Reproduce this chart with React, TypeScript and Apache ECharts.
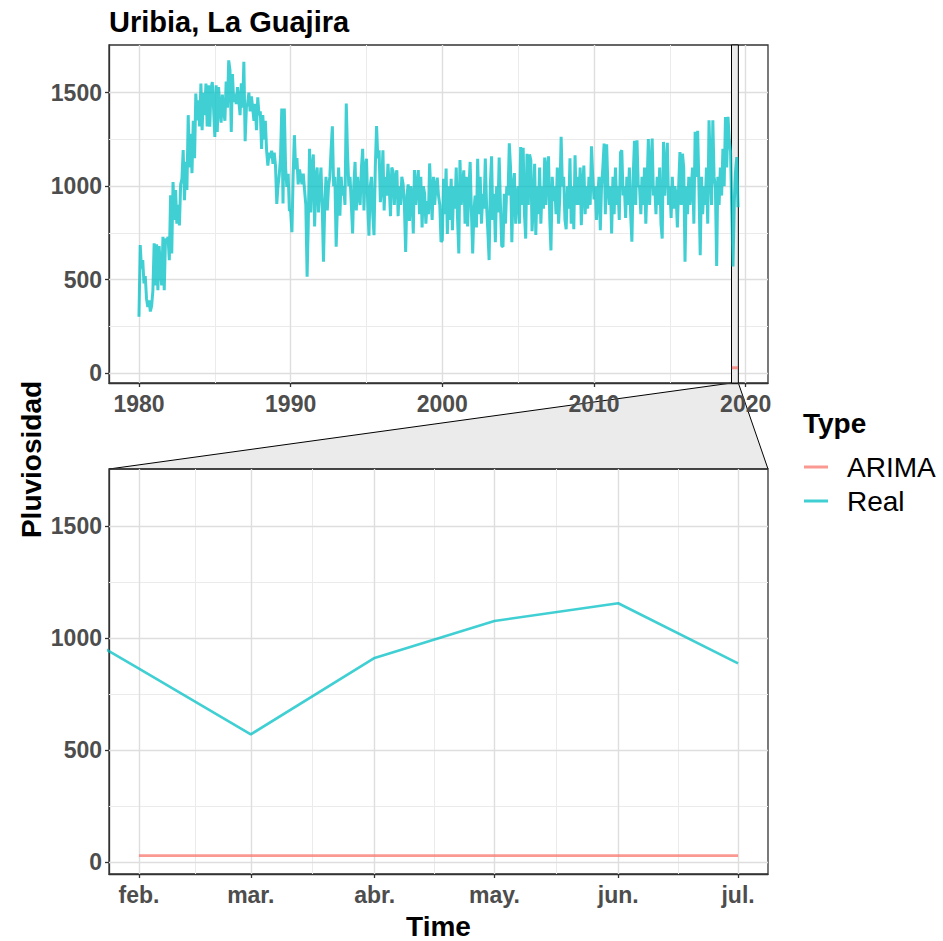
import React, { useEffect, useRef } from "react";
import * as echarts from "echarts";

// ---------- texts ----------
const chartTitle = "Uribia, La Guajira";
const yAxisTitle = "Pluviosidad";
const xAxisTitle = "Time";
const legendTitle = "Type";

// ---------- data ----------
const realStartYear = 1980; // monthly values from Jan 1980
const realValues: number[] = [
  // 1980
  302, 685, 560, 605, 480, 520, 400, 354, 390, 330, 360, 440,
  // 1981
  695, 470, 690, 444, 680, 560, 470, 730, 444, 720, 700, 730,
  // 1982
  605, 952, 640, 1023, 820, 980, 800, 900, 790, 1010, 1040, 1193,
  // 1983
  925, 1130, 980, 1380, 1100, 1280, 1070, 1350, 1150, 1495, 1352, 1460,
  // 1984
  1320, 1549, 1300, 1500, 1380, 1549, 1320, 1540, 1318, 1520, 1557, 1420,
  // 1985
  1264, 1540, 1290, 1530, 1420, 1340, 1490, 1400, 1350, 1560, 1420, 1673,
  // 1986
  1620, 1290, 1600, 1450, 1495, 1440, 1530, 1460, 1380, 1550, 1420, 1665,
  // 1987
  1241, 1425, 1440, 1500, 1400, 1480, 1420, 1350, 1440, 1300, 1475, 1380,
  // 1988
  1400, 1200, 1380, 1250, 1350, 1190, 1110, 1180, 1150, 1190, 1120, 1180,
  // 1989
  1110, 905, 1000, 1060, 1150, 1416, 908, 1415, 1100, 997, 1067, 870,
  // 1990
  870, 754, 1050, 1273, 1090, 1150, 1010, 1090, 1050, 1010, 1067, 980,
  // 1991
  900, 516, 800, 1200, 860, 1100, 1170, 785, 1050, 1100, 860, 1000,
  // 1992
  1100, 880, 596, 900, 1050, 870, 1000, 1050, 1200, 1320, 1000, 1050,
  // 1993
  676, 900, 1100, 842, 1050, 950, 1000, 900, 1442, 1180, 1000, 1050,
  // 1994
  900, 747, 1000, 1130, 870, 1050, 950, 900, 1100, 1200, 870, 1100,
  // 1995
  1147, 900, 736, 1000, 1050, 850, 738, 1100, 1322, 1150, 1192, 915,
  // 1996
  1000, 1192, 870, 1050, 950, 1120, 1000, 840, 1100, 1080, 900, 1050,
  // 1997
  1085, 840, 1000, 900, 1050, 1010, 900, 649, 950, 1010, 815, 1000,
  // 1998
  950, 747, 1086, 900, 1000, 1086, 850, 1050, 780, 1000, 960, 800,
  // 1999
  920, 850, 1122, 960, 820, 1050, 900, 1000, 1046, 950, 900, 702,
  // 2000
  712, 1040, 850, 1095, 745, 1000, 820, 1040, 765, 1000, 880, 1100,
  // 2001
  830, 641, 1140, 900, 1000, 1085, 800, 1050, 785, 980, 1130, 870,
  // 2002
  640, 870, 950, 780, 1147, 850, 1050, 800, 960, 880, 1148, 900,
  // 2003
  760, 605, 1000, 1160, 820, 960, 700, 1000, 860, 1153, 900, 680,
  // 2004
  676, 960, 800, 1000, 950, 1229, 1100, 700, 1000, 1070, 800, 950,
  // 2005
  1000, 800, 1210, 900, 1206, 850, 720, 1173, 900, 1170, 1140, 760,
  // 2006
  900, 1120, 740, 1000, 850, 1100, 800, 1000, 880, 1153, 900, 1100,
  // 2007
  1160, 820, 657, 1050, 920, 1000, 850, 1100, 800, 950, 1264, 1000,
  // 2008
  1050, 820, 770, 1000, 880, 1150, 800, 1000, 770, 1166, 900, 1050,
  // 2009
  900, 1100, 792, 1000, 1110, 850, 1000, 880, 1050, 900, 1214, 1050,
  // 2010
  930, 1000, 820, 950, 1050, 765, 1000, 1100, 1228, 850, 1224, 1000,
  // 2011
  900, 1000, 748, 1050, 850, 1100, 900, 1000, 820, 1180, 1192, 950,
  // 2012
  1000, 830, 1050, 900, 1100, 850, 703, 1050, 1243, 900, 1246, 1000,
  // 2013
  1000, 850, 1050, 900, 1100, 800, 1000, 1252, 900, 1100, 1255, 950,
  // 2014
  1000, 850, 1050, 900, 1100, 800, 720, 1237, 950, 1100, 1232, 900,
  // 2015
  1000, 830, 1050, 880, 1000, 950, 780, 1000, 1183, 900, 1174, 1100,
  // 2016
  596, 1000, 850, 1050, 900, 1000, 1100, 800, 1291, 1050, 1296, 1000,
  // 2017
  631, 1050, 850, 1000, 900, 1100, 800, 1353, 1100, 900, 1353, 1050,
  // 2018
  1000, 573, 1050, 900, 1100, 950, 1200, 1000, 1370, 1100, 1371, 1250,
  // 2019 (Jan - Jul)
  1186, 864, 571, 912, 1077, 1156, 888,
];

const arimaDates = ["2019-02-01", "2019-03-01", "2019-04-01", "2019-05-01", "2019-06-01", "2019-07-01"];
const arimaValues = [30, 30, 30, 30, 30, 30];

// ---------- axis breaks ----------
const yBreaks = [0, 500, 1000, 1500];
const yMinorBreaks = [250, 750, 1250];
const topYearBreaks = [1980, 1990, 2000, 2010, 2020];
const topYearMinorBreaks = [1985, 1995, 2005, 2015];
const zoomMonthBreaks = ["2019-02-01", "2019-03-01", "2019-04-01", "2019-05-01", "2019-06-01", "2019-07-01"];
const monthAbbr = ["ene.", "feb.", "mar.", "abr.", "may.", "jun.", "jul.", "ago.", "sept.", "oct.", "nov.", "dic."];

// ---------- style ----------
const FONT = "'Liberation Sans', Arial, Helvetica, sans-serif";
const COL_ARIMA = "rgba(248,118,109,0.75)";
const COL_REAL = "rgba(0,191,196,0.75)";
const BORDER = "#333333";
const TICK_TEXT = "#4D4D4D";
const MAJOR_GRID = { color: "#DEDEDE", width: 1.4, type: "solid" as const };
const MINOR_GRID = { color: "#EBEBEB", width: 1, type: "solid" as const };

const parseDate = (s: string) => {
  const [y, m, d] = s.split("-").map(Number);
  return Date.UTC(y, m - 1, d);
};

export default function App() {
  const ref = useRef<HTMLDivElement>(null);

  useEffect(() => {
    if (!ref.current) return;
    const chart = echarts.init(ref.current, undefined, { renderer: "svg" });

    const realData = realValues.map((v, i) => [
      Date.UTC(realStartYear + Math.floor(i / 12), i % 12, 1),
      v,
    ]);
    const arimaData = arimaDates.map((d, i) => [parseDate(d), arimaValues[i]]);

    const allX = [...realData.map((p) => p[0]), ...arimaData.map((p) => p[0])];
    const allY = [...realValues, ...arimaValues];
    const xLo = Math.min(...allX);
    const xHi = Math.max(...allX);
    const xSpan = xHi - xLo;
    const topXMin = xLo - 0.05 * xSpan;
    const topXMax = xHi + 0.05 * xSpan;

    const zLo = Math.min(...arimaData.map((p) => p[0]));
    const zHi = Math.max(...arimaData.map((p) => p[0]));
    const zSpan = zHi - zLo;
    const botXMin = zLo - 0.05 * zSpan;
    const botXMax = zHi + 0.05 * zSpan;

    const yLo = Math.min(...allY);
    const yHi = Math.max(...allY);
    const ySpan = yHi - yLo;
    const yMin = yLo - 0.05 * ySpan;
    const yMax = yHi + 0.05 * ySpan;

    const topTicks = topYearBreaks.map((y) => Date.UTC(y, 0, 1));
    const topMinor = topYearMinorBreaks.map((y) => Date.UTC(y, 0, 1));
    const botTicks = zoomMonthBreaks.map(parseDate);
    const botMinor = botTicks.slice(1).map((t, i) => (t + botTicks[i]) / 2);

    const gridMarks = (xMajor: number[], xMinor: number[]) => ({
      silent: true,
      z: 1,
      symbol: ["none", "none"],
      label: { show: false },
      emphasis: { disabled: true },
      animation: false,
      data: [
        ...yMinorBreaks.map((v) => ({ yAxis: v, lineStyle: MINOR_GRID })),
        ...xMinor.map((v) => ({ xAxis: v, lineStyle: MINOR_GRID })),
        ...yBreaks.map((v) => ({ yAxis: v, lineStyle: MAJOR_GRID })),
        ...xMajor.map((v) => ({ xAxis: v, lineStyle: MAJOR_GRID })),
      ],
    });

    const labelStyle = {
      fontSize: 23,
      fontWeight: "bold" as const,
      color: TICK_TEXT,
      fontFamily: FONT,
    };
    const axisLine = { show: true, onZero: false, lineStyle: { color: BORDER, width: 1.3 } };

    const yAxisCfg = (gridIndex: number) => ({
      type: "value" as const,
      gridIndex,
      min: yMin,
      max: yMax,
      splitLine: { show: false },
      axisLine,
      axisTick: { show: true, customValues: yBreaks, length: 4, lineStyle: { color: BORDER, width: 1.3 } },
      axisLabel: { customValues: yBreaks, margin: 7, formatter: (v: number) => String(Math.round(v)), ...labelStyle },
    });

    const lineSeries = (name: string, data: number[][], color: string, idx: number, z: number, width: number, extra: any = {}) => ({
      name,
      type: "line" as const,
      xAxisIndex: idx,
      yAxisIndex: idx,
      data,
      showSymbol: false,
      symbol: "none",
      silent: true,
      z,
      lineStyle: { color, width },
      itemStyle: { color },
      emphasis: { disabled: true },
      ...extra,
    });

    const option: any = {
      animation: false,
      backgroundColor: "#ffffff",
      textStyle: { fontFamily: FONT },
      title: [
        {
          text: chartTitle,
          left: 109,
          top: 7,
          padding: 0,
          textStyle: { fontSize: 29, fontWeight: "bold", color: "#000", fontFamily: FONT },
        },
        {
          text: legendTitle,
          left: 803,
          top: 409,
          padding: 0,
          textStyle: { fontSize: 28, fontWeight: "bold", color: "#000", fontFamily: FONT },
        },
      ],
      legend: {
        data: ["ARIMA", "Real"],
        orient: "vertical",
        left: 804,
        top: 450,
        padding: 0,
        itemGap: 0,
        itemWidth: 24,
        itemHeight: 3,
        icon: "rect",
        selectedMode: false,
        textStyle: {
          fontSize: 28,
          lineHeight: 34,
          color: "#000",
          fontFamily: FONT,
          padding: [0, 0, 0, 14],
        },
      },
      grid: [
        { left: 109, right: 175, top: 45, height: 338, show: true, borderColor: BORDER, borderWidth: 1.3, backgroundColor: "transparent" },
        { left: 109, right: 175, top: 469, height: 405, show: true, borderColor: BORDER, borderWidth: 1.3, backgroundColor: "transparent" },
      ],
      xAxis: [
        {
          type: "value",
          gridIndex: 0,
          min: topXMin,
          max: topXMax,
          splitLine: { show: false },
          axisLine,
          axisTick: { show: true, customValues: topTicks, length: 4, lineStyle: { color: BORDER, width: 1.3 } },
          axisLabel: {
            customValues: topTicks,
            margin: 9,
            formatter: (v: number) => String(new Date(v).getUTCFullYear()),
            ...labelStyle,
          },
        },
        {
          type: "value",
          gridIndex: 1,
          min: botXMin,
          max: botXMax,
          splitLine: { show: false },
          axisLine,
          axisTick: { show: true, customValues: botTicks, length: 4, lineStyle: { color: BORDER, width: 1.3 } },
          axisLabel: {
            customValues: botTicks,
            margin: 9,
            formatter: (v: number) => monthAbbr[new Date(v).getUTCMonth()],
            ...labelStyle,
          },
          name: xAxisTitle,
          nameLocation: "middle",
          nameGap: 38,
          nameTextStyle: { fontSize: 28, fontWeight: "bold", color: "#000", fontFamily: FONT },
        },
      ],
      yAxis: [yAxisCfg(0), yAxisCfg(1)],
      series: [
        lineSeries("ARIMA", arimaData, COL_ARIMA, 0, 3, 3, { markLine: gridMarks(topTicks, topMinor) }),
        lineSeries("Real", realData, COL_REAL, 0, 4, 3, {
          markArea: {
            silent: true,
            z: 2,
            label: { show: false },
            emphasis: { disabled: true },
            itemStyle: { color: "#EBEBEB", borderColor: "#000", borderWidth: 1 },
            data: [[{ xAxis: botXMin }, { xAxis: botXMax }]],
          },
        }),
        lineSeries("ARIMA", arimaData, COL_ARIMA, 1, 3, 2.6, { markLine: gridMarks(botTicks, botMinor) }),
        lineSeries("Real", realData, COL_REAL, 1, 4, 2.6),
      ],
    };

    chart.setOption(option);

    // zoom connector computed from the axes' own scales
    const xl = chart.convertToPixel({ xAxisIndex: 0 }, botXMin) as number;
    const xr = chart.convertToPixel({ xAxisIndex: 0 }, botXMax) as number;
    const yTopBottom = chart.convertToPixel({ yAxisIndex: 0 }, yMin) as number;
    const bl = chart.convertToPixel({ xAxisIndex: 1 }, botXMin) as number;
    const br = chart.convertToPixel({ xAxisIndex: 1 }, botXMax) as number;
    const yBotTop = chart.convertToPixel({ yAxisIndex: 1 }, yMax) as number;
    const topY0 = chart.convertToPixel({ yAxisIndex: 0 }, yMax) as number;
    const botY0 = chart.convertToPixel({ yAxisIndex: 1 }, yMin) as number;

    chart.setOption({
      graphic: [
        {
          type: "polygon",
          id: "connector",
          z: -1,
          silent: true,
          shape: { points: [[xl, yTopBottom], [xr, yTopBottom], [br, yBotTop], [bl, yBotTop]] },
          style: { fill: "#EBEBEB", stroke: "#000", lineWidth: 1 },
        },
        {
          type: "text",
          id: "ytitle",
          x: 31,
          y: (topY0 + botY0) / 2,
          rotation: Math.PI / 2,
          silent: true,
          style: {
            text: yAxisTitle,
            fontSize: 28,
            fontWeight: "bold",
            fontFamily: FONT,
            fill: "#000",
            align: "center",
            verticalAlign: "middle",
          },
        },
      ],
    });

    return () => chart.dispose();
  }, []);

  return (
    <div
      ref={ref}
      style={{ position: "fixed", left: 0, top: 0, width: 943, height: 941, background: "#fff" }}
    />
  );
}
